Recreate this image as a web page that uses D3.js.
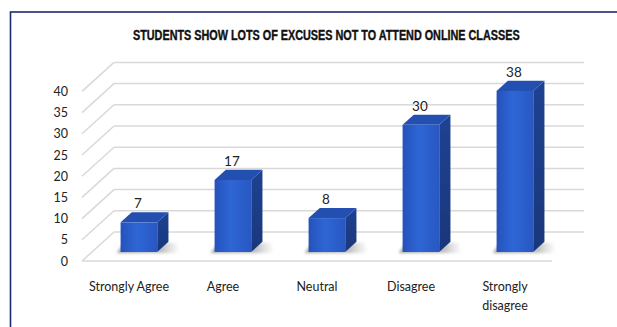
<!DOCTYPE html>
<html>
<head>
<meta charset="utf-8">
<script src="https://cdn.jsdelivr.net/npm/d3@7"></script>
<style>
  html, body { margin: 0; padding: 0; background: #fff; }
  svg { display: block; }
</style>
</head>
<body>
<div id="chart"></div>
<script>
const chartTitle = 'STUDENTS SHOW LOTS OF EXCUSES NOT TO ATTEND ONLINE CLASSES';
const categories = ['Strongly Agree', 'Agree', 'Neutral', 'Disagree', 'Strongly disagree'];
const categoryLines = [['Strongly Agree'], ['Agree'], ['Neutral'], ['Disagree'], ['Strongly', 'disagree']];
const values = [7, 17, 8, 30, 38];
const yTicks = [0, 5, 10, 15, 20, 25, 30, 35, 40];

const width = 617;
const height = 327;

// oblique depth of the floor / wall
const depthX = 32;
const depthY = -29;
// bar sits between these fractions of the depth
const barDepth0 = 0.31;
const barDepth1 = 0.66;
const barWidthRatio = 0.39;

const svg = d3.select('#chart')
  .append('svg')
  .attr('width', width)
  .attr('height', height);

const defs = svg.append('defs');

const frontGrad = defs.append('linearGradient')
  .attr('id', 'front-grad')
  .attr('x1', '0%').attr('x2', '100%').attr('y1', '0%').attr('y2', '0%');
frontGrad.append('stop').attr('offset', '0%').attr('stop-color', '#2552bb');
frontGrad.append('stop').attr('offset', '45%').attr('stop-color', '#2e66d6');
frontGrad.append('stop').attr('offset', '100%').attr('stop-color', '#2857c2');

const sideGrad = defs.append('linearGradient')
  .attr('id', 'side-grad')
  .attr('x1', '0%').attr('x2', '0%').attr('y1', '0%').attr('y2', '100%');
sideGrad.append('stop').attr('offset', '0%').attr('stop-color', '#1e4292');
sideGrad.append('stop').attr('offset', '100%').attr('stop-color', '#19377a');

const shadowGrad = defs.append('linearGradient')
  .attr('id', 'shadow-grad')
  .attr('x1', '0%').attr('x2', '100%').attr('y1', '0%').attr('y2', '0%');
shadowGrad.append('stop').attr('offset', '0%').attr('stop-color', '#777').attr('stop-opacity', 0.7);
shadowGrad.append('stop').attr('offset', '70%').attr('stop-color', '#888').attr('stop-opacity', 0.55);
shadowGrad.append('stop').attr('offset', '100%').attr('stop-color', '#aaa').attr('stop-opacity', 0);

defs.append('filter')
  .attr('id', 'blur')
  .attr('x', '-50%').attr('y', '-100%').attr('width', '200%').attr('height', '300%')
  .append('feGaussianBlur')
  .attr('stdDeviation', 1.8);

// Frame
svg.append('rect')
  .attr('x', 10.5)
  .attr('y', 12)
  .attr('width', 620)
  .attr('height', 330)
  .attr('fill', '#fff')
  .attr('stroke', '#1c2b6e')
  .attr('stroke-width', 1.6);

// Title - squeezed horizontally to the condensed width of the original
const titleWidth = 387;
const title = svg.append('text')
  .attr('x', 0)
  .attr('y', 0)
  .attr('font-family', '"Liberation Sans Narrow", "Liberation Sans", Arial, sans-serif')
  .attr('font-weight', 'bold')
  .attr('font-size', 14)
  .attr('fill', '#111')
  .attr('stroke', '#111')
  .attr('stroke-width', 0.4)
  .text(chartTitle);
const natural = title.node().getComputedTextLength();
title.attr('transform', 'translate(133,39.5) scale(' + (titleWidth / natural) + ',1)');

// Scales (front plane)
const x = d3.scaleBand()
  .domain(categories)
  .range([82, 552]);

const y = d3.scaleLinear()
  .domain([0, 40])
  .range([261, 91.4]);

const grid = svg.append('g').attr('class', 'grid');

// back wall lines
grid.selectAll('.back-line')
  .data(yTicks)
  .join('line')
  .attr('class', 'back-line')
  .attr('x1', x.range()[0] + depthX)
  .attr('x2', x.range()[1] + depthX)
  .attr('y1', d => y(d) + depthY)
  .attr('y2', d => y(d) + depthY)
  .attr('stroke', '#d9d9d9')
  .attr('stroke-width', 1.5);

// side wall diagonals
grid.selectAll('.side-line')
  .data(yTicks)
  .join('line')
  .attr('class', 'side-line')
  .attr('x1', x.range()[0])
  .attr('x2', x.range()[0] + depthX)
  .attr('y1', d => y(d))
  .attr('y2', d => y(d) + depthY)
  .attr('stroke', '#d9d9d9')
  .attr('stroke-width', 1.5);

// front floor edge
grid.append('line')
  .attr('x1', x.range()[0])
  .attr('x2', x.range()[1])
  .attr('y1', y(0))
  .attr('y2', y(0))
  .attr('stroke', '#d9d9d9')
  .attr('stroke-width', 1.5);

// Y axis labels
svg.append('g')
  .attr('transform', 'translate(70,0)')
  .call(d3.axisLeft(y).tickValues(yTicks).tickSize(0).tickPadding(2))
  .call(g => g.select('.domain').remove())
  .call(g => g.selectAll('.tick text')
    .attr('font-family', 'Lato, "Open Sans", sans-serif')
    .attr('font-size', 12.5)
    .attr('fill', '#222'));

// Bars
const bw = x.bandwidth() * barWidthRatio;
const d0x = depthX * barDepth0, d0y = depthY * barDepth0;
const ddx = depthX * (barDepth1 - barDepth0), ddy = depthY * (barDepth1 - barDepth0);

const bars = svg.append('g')
  .selectAll('.bar')
  .data(categories.map((c, i) => ({ name: c, value: values[i] })))
  .join('g')
  .attr('class', 'bar');

const fx = d => x(d.name) + x.bandwidth() / 2 - bw / 2 + d0x;
const fyTop = d => y(d.value) + d0y;
const fyBot = d => y(0) + d0y;

// shadow on the floor
bars.append('path')
  .attr('d', d => {
    const l = fx(d), b = fyBot(d);
    return 'M' + (l - 4) + ',' + (b + 1)
      + 'L' + (l + bw + ddx + 12) + ',' + (b + 1)
      + 'L' + (l + bw + ddx + 8) + ',' + (b + ddy + 1)
      + 'L' + (l + 4) + ',' + (b + ddy + 1) + 'Z';
  })
  .attr('fill', 'url(#shadow-grad)')
  .attr('filter', 'url(#blur)');

// side face
bars.append('path')
  .attr('d', d => {
    const r = fx(d) + bw, t = fyTop(d), b = fyBot(d);
    return 'M' + r + ',' + t + 'L' + (r + ddx) + ',' + (t + ddy)
      + 'L' + (r + ddx) + ',' + (b + ddy) + 'L' + r + ',' + b + 'Z';
  })
  .attr('fill', 'url(#side-grad)');

// top face
bars.append('path')
  .attr('d', d => {
    const l = fx(d), t = fyTop(d);
    return 'M' + l + ',' + t + 'L' + (l + ddx) + ',' + (t + ddy)
      + 'L' + (l + bw + ddx) + ',' + (t + ddy) + 'L' + (l + bw) + ',' + t + 'Z';
  })
  .attr('fill', '#2350b0');

// front face
bars.append('rect')
  .attr('x', fx)
  .attr('y', fyTop)
  .attr('width', bw)
  .attr('height', d => fyBot(d) - fyTop(d))
  .attr('fill', 'url(#front-grad)');

// value labels
bars.append('text')
  .attr('x', d => fx(d) + bw / 2 - 1)
  .attr('y', d => fyTop(d) + ddy - 4)
  .attr('text-anchor', 'middle')
  .attr('font-family', 'Lato, "Open Sans", sans-serif')
  .attr('font-size', 13.5)
  .attr('fill', '#222')
  .text(d => d.value);

// Category labels
svg.append('g')
  .selectAll('text')
  .data(categories)
  .join('text')
  .attr('x', d => x(d) + x.bandwidth() / 2)
  .attr('y', 291)
  .attr('text-anchor', 'middle')
  .attr('font-family', 'Lato, "Open Sans", sans-serif')
  .attr('font-size', 12.5)
  .attr('fill', '#222')
  .selectAll('tspan')
  .data((d, i) => categoryLines[i])
  .join('tspan')
  .attr('x', function () { return d3.select(this.parentNode).attr('x'); })
  .attr('dy', (d, i) => i === 0 ? 0 : 19)
  .text(d => d);
</script>
</body>
</html>
